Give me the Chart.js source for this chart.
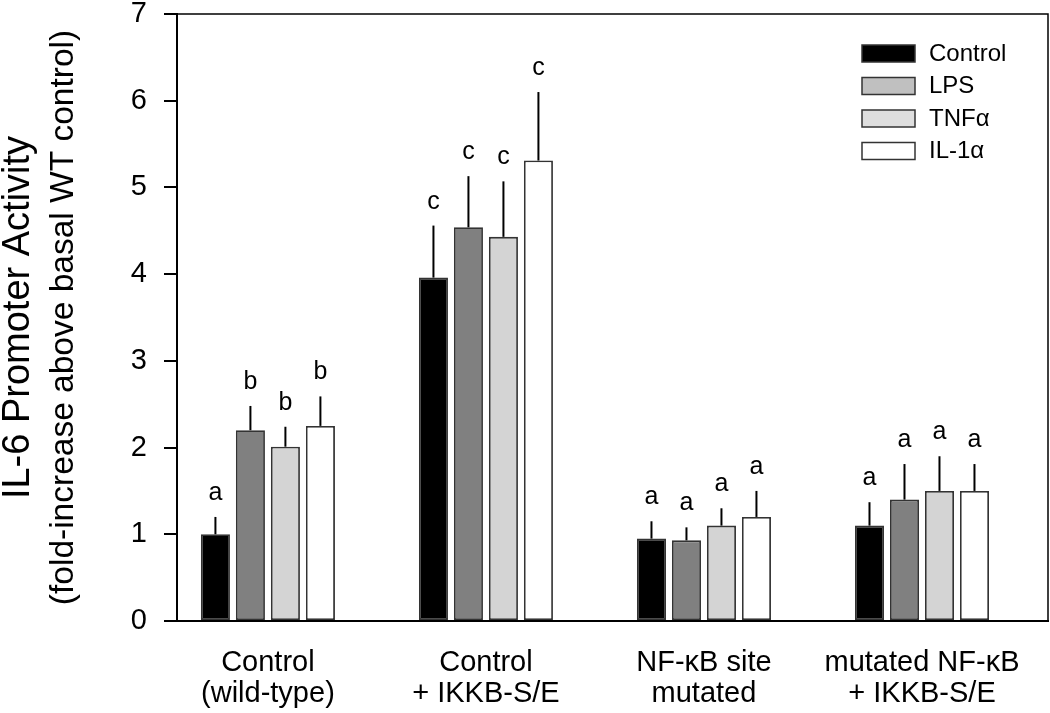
<!DOCTYPE html>
<html lang="en">
<head>
<meta charset="UTF-8">
<title>IL-6 promoter activity</title>
<script src="https://cdn.jsdelivr.net/npm/chart.js@4.4.0/dist/chart.umd.min.js"></script>
<style>
  body { margin: 0; background: #fff; }
  #chart { display: block; }
</style>
</head>
<body>
<canvas id="chart" width="1050" height="713"></canvas>
<script>
// categories (two-line tick labels) and series names
var groups = [['Control', '(wild-type)'], ['Control', '+ IKKB-S/E'], ['NF-\u03baB site', 'mutated'], ['mutated NF-\u03baB', '+ IKKB-S/E']]
var treatments = ['Control', 'LPS', 'TNF\u03b1', 'IL-1\u03b1']

// bar heights and upper error (fold increase)
var controlMean = [1.00, 3.96, 0.95, 1.10]
var controlErr  = [0.20, 0.60, 0.20, 0.27]
var lpsMean     = [2.20, 4.54, 0.93, 1.40]
var lpsErr      = [0.28, 0.59, 0.15, 0.41]
var tnfMean     = [2.01, 4.43, 1.10, 1.50]
var tnfErr      = [0.23, 0.64, 0.20, 0.40]
var ilMean      = [2.25, 5.31, 1.20, 1.50]
var ilErr       = [0.34, 0.79, 0.30, 0.31]

// significance letters over each bar
var controlSig = ['a', 'c', 'a', 'a']
var lpsSig     = ['b', 'c', 'a', 'a']
var tnfSig     = ['b', 'c', 'a', 'a']
var ilSig      = ['b', 'c', 'a', 'a']

var yMin = 0, yMax = 7, yStep = 1

var means = [controlMean, lpsMean, tnfMean, ilMean]
var errs = [controlErr, lpsErr, tnfErr, ilErr]
var sigs = [controlSig, lpsSig, tnfSig, ilSig]
var barFill = ['#000000', '#808080', '#d4d4d4', '#ffffff']
var legendFill = ['#000000', '#c0c0c0', '#dedede', '#ffffff']
var FONT = "'Liberation Sans', Arial, sans-serif"

var extras = {
  id: 'extras',
  afterDatasetsDraw: function(chart) {
    var ctx = chart.ctx, ys = chart.scales.y, area = chart.chartArea
    ctx.save()
    // error whiskers + letters
    ctx.strokeStyle = '#000'
    ctx.lineWidth = 2
    ctx.fillStyle = '#000'
    ctx.font = '25px ' + FONT
    ctx.textAlign = 'center'
    ctx.textBaseline = 'alphabetic'
    chart.data.datasets.forEach(function(ds, d) {
      var meta = chart.getDatasetMeta(d)
      meta.data.forEach(function(bar, i) {
        var top = ys.getPixelForValue(means[d][i] + errs[d][i])
        ctx.beginPath()
        ctx.moveTo(bar.x, bar.y)
        ctx.lineTo(bar.x, top)
        ctx.stroke()
        ctx.fillText(sigs[d][i], bar.x, top - 17)
      })
    })
    // top and right frame
    ctx.lineWidth = 1.5
    ctx.beginPath()
    ctx.moveTo(area.left, area.top)
    ctx.lineTo(area.right, area.top)
    ctx.lineTo(area.right, area.bottom)
    ctx.stroke()
    // legend
    ctx.font = '24px ' + FONT
    ctx.textAlign = 'left'
    ctx.textBaseline = 'middle'
    treatments.forEach(function(name, k) {
      var bx = area.right - 186, by = area.top + 31 + k * 32.5
      ctx.fillStyle = legendFill[k]
      ctx.fillRect(bx, by, 53, 17)
      ctx.strokeStyle = '#333'
      ctx.lineWidth = 1.5
      ctx.strokeRect(bx, by, 53, 17)
      ctx.fillStyle = '#000'
      ctx.fillText(name, area.right - 119, by + 9)
    })
    // y title, two lines of different size
    var cy = (area.top + area.bottom) / 2
    ctx.translate(0, cy)
    ctx.rotate(-Math.PI / 2)
    ctx.textAlign = 'center'
    ctx.font = '38px ' + FONT
    ctx.fillText('IL-6 Promoter Activity', 0, 19)
    ctx.font = '33.5px ' + FONT
    ctx.fillText('(fold-increase above basal WT control)', 0, 64)
    ctx.restore()
  }
}

var chart = new Chart(document.getElementById('chart'), {
  type: 'bar',
  data: {
    datasets: treatments.map(function(name, s) {
      return {
        label: name,
        data: means[s].map(function(v, i) { return { x: i, y: v } }),
        backgroundColor: barFill[s],
        borderColor: '#333',
        borderWidth: 1.8,
        borderSkipped: false,
        categoryPercentage: 0.642,
        barPercentage: 0.83
      }
    })
  },
  options: {
    responsive: false,
    animation: false,
    layout: { padding: { top: 0, right: 2, left: 0, bottom: 0 } },
    plugins: { legend: { display: false }, tooltip: { enabled: false } },
    scales: {
      x: {
        type: 'linear',
        offset: false,
        min: -0.417,
        max: 3.578,
        afterBuildTicks: function(s) { s.ticks = groups.map(function(g, i) { return { value: i } }) },
        afterFit: function(s) { s.height = 92; s.paddingLeft = 0; s.paddingRight = 0 },
        grid: { display: false, offset: false },
        border: { color: '#000', width: 2 },
        ticks: {
          autoSkip: false,
          maxRotation: 0,
          padding: 19,
          color: '#000',
          font: { family: FONT, size: 29, lineHeight: 1.05 },
          callback: function(v) { return groups[v] }
        }
      },
      y: {
        min: yMin,
        max: yMax,
        afterFit: function(s) { s.width = 177; s.paddingTop = 14; s.paddingBottom = 0 },
        grid: { drawOnChartArea: false, tickLength: 13, color: '#000', lineWidth: 2 },
        border: { color: '#000', width: 2 },
        ticks: {
          stepSize: yStep,
          padding: 17,
          color: '#000',
          font: { family: FONT, size: 29, lineHeight: 1 }
        }
      }
    }
  },
  plugins: [extras]
})
</script>
</body>
</html>
